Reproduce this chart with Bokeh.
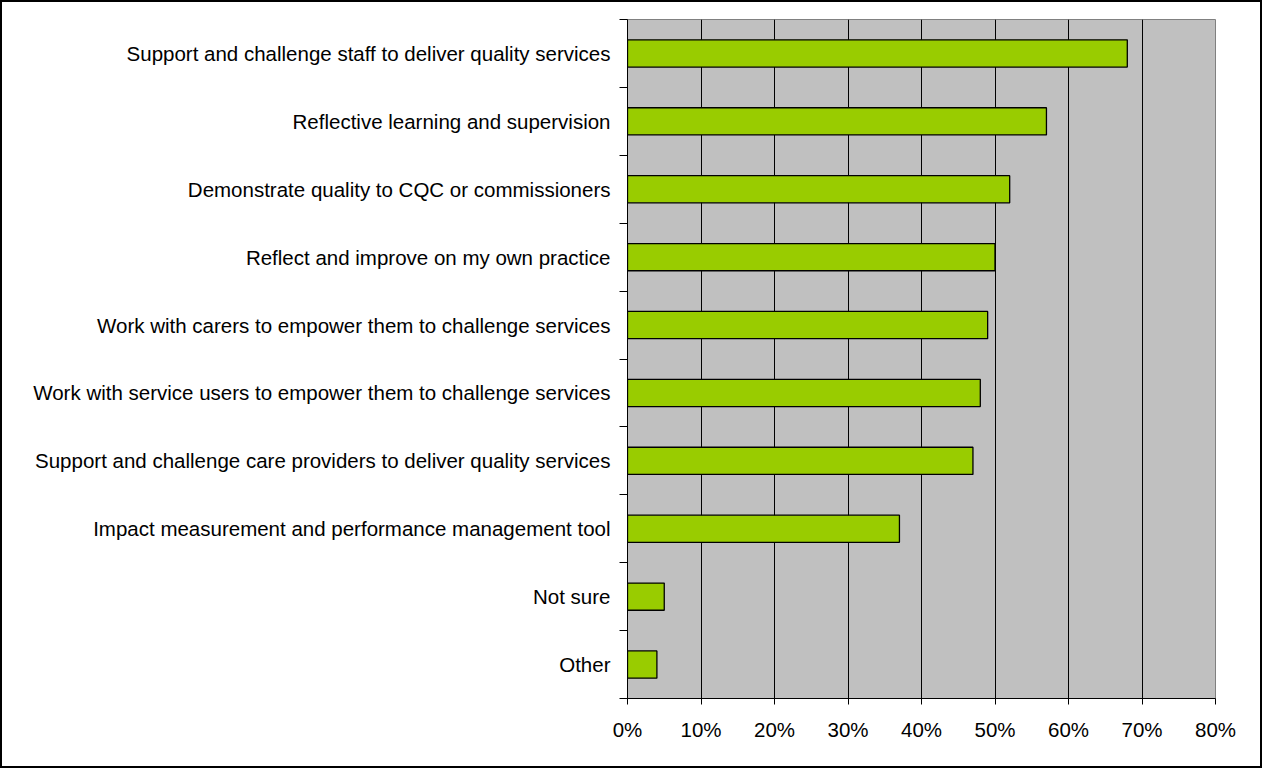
from bokeh.plotting import figure
from bokeh.models import FixedTicker, NumeralTickFormatter, Range1d
from bokeh.embed import file_html
from bokeh.resources import INLINE

categories = [
    "Support and challenge staff to deliver quality services",
    "Reflective learning and supervision",
    "Demonstrate quality to CQC or commissioners",
    "Reflect and improve on my own practice",
    "Work with carers to empower them to challenge services",
    "Work with service users to empower them to challenge services",
    "Support and challenge care providers to deliver quality services",
    "Impact measurement and performance management tool",
    "Not sure",
    "Other",
]
values = [0.68, 0.57, 0.52, 0.50, 0.49, 0.48, 0.47, 0.37, 0.05, 0.04]
x_ticks = [0.0, 0.1, 0.2, 0.3, 0.4, 0.5, 0.6, 0.7, 0.8]

n = len(categories)
ypos = [n - i - 0.5 for i in range(n)]

FONT = "Liberation Sans"
B = 2  # outer border width

p = figure(
    width=1262 - 2 * B, height=768 - 2 * B,
    frame_width=588, frame_height=679,
    min_border_left=627 - B, min_border_right=47 - B,
    min_border_top=19 - B, min_border_bottom=70 - B,
    x_range=Range1d(0, 0.8), y_range=Range1d(0, n),
    output_backend="svg", toolbar_location=None,
)
p.styles = {"border": f"{B}px solid black"}

p.background_fill_color = "#C0C0C0"
p.border_fill_color = "white"
p.outline_line_color = "#808080"
p.outline_line_width = 1

p.hbar(y=ypos, right=values, left=0, height=0.4,
       fill_color="#99CC00", line_color="black", line_width=1.3)

# x axis
p.xaxis.ticker = FixedTicker(ticks=x_ticks)
p.xaxis.formatter = NumeralTickFormatter(format="0%")
p.xaxis.axis_line_color = "black"
p.xaxis.axis_line_width = 1
p.xaxis.major_tick_line_color = "black"
p.xaxis.major_tick_out = 6
p.xaxis.major_tick_in = 0
p.xaxis.minor_tick_line_color = None
p.xaxis.major_label_text_font = FONT
p.xaxis.major_label_text_font_size = "20.5px"
p.xaxis.major_label_text_color = "black"
p.xaxis.major_label_standoff = 13

# y axis: labels at category centres, ticks at boundaries
p.yaxis.ticker = FixedTicker(ticks=ypos, minor_ticks=list(range(n + 1)))
p.yaxis.major_label_overrides = {y: c for y, c in zip(ypos, categories)}
p.yaxis.major_tick_line_color = None
p.yaxis.major_tick_out = 0
p.yaxis.major_tick_in = 0
p.yaxis.minor_tick_line_color = "black"
p.yaxis.minor_tick_out = 8
p.yaxis.minor_tick_in = 0
p.yaxis.axis_line_color = "black"
p.yaxis.major_label_text_font = FONT
p.yaxis.major_label_text_font_size = "20.5px"
p.yaxis.major_label_text_color = "black"
p.yaxis.major_label_standoff = 9

p.xgrid.ticker = FixedTicker(ticks=x_ticks)
p.xgrid.grid_line_color = "black"
p.xgrid.grid_line_width = 1
p.ygrid.grid_line_color = None

open("out.html", "w").write(file_html(p, INLINE))
